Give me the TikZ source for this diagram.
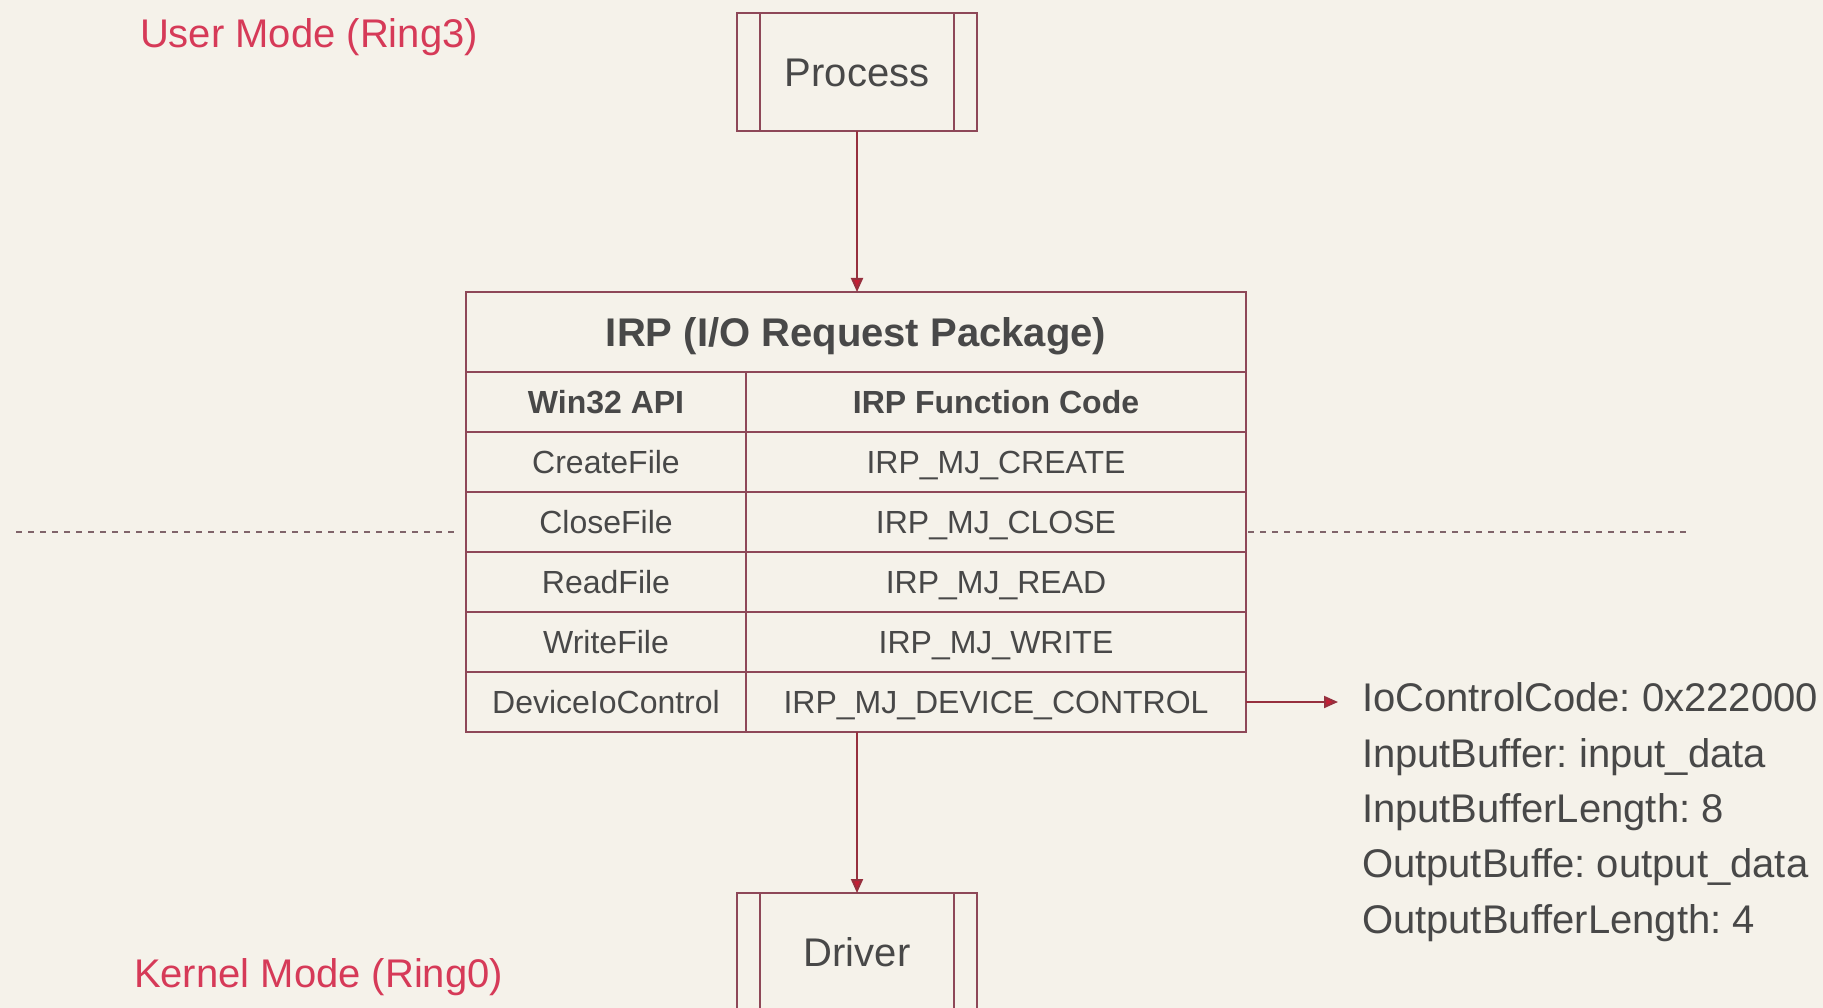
\documentclass[tikz,border=0pt]{standalone}
\usepackage{fontspec}
\setmainfont{Liberation Sans}
\usetikzlibrary{arrows.meta}
\frenchspacing

\definecolor{paper}{RGB}{245,242,234}
\definecolor{edge}{RGB}{142,72,88}
\definecolor{wire}{RGB}{150,48,62}
\definecolor{tip}{RGB}{196,30,52}
\definecolor{ink}{RGB}{72,72,72}
\definecolor{mode}{RGB}{214,58,88}
\definecolor{split}{RGB}{128,100,106}

\tikzset{
  every node/.style={inner sep=0pt, outer sep=0pt, text=ink},
  procbox/.style={draw=edge, line width=2pt, minimum width=240pt, minimum height=118pt,
    font=\fontsize{40}{46}\selectfont, text height=29pt, text depth=-1pt,
    path picture={
      \draw[edge, line width=2pt]
        ([xshift=23pt]path picture bounding box.north west) -- ([xshift=23pt]path picture bounding box.south west)
        ([xshift=-23pt]path picture bounding box.north east) -- ([xshift=-23pt]path picture bounding box.south east);
    }},
  cell/.style={draw=edge, line width=2pt, minimum height=60pt, font=\fontsize{32}{36}\selectfont,
    text height=23pt, text depth=-6pt},
  apicell/.style={cell, minimum width=280pt},
  codecell/.style={cell, minimum width=500pt},
  headcell/.style={font=\fontsize{32}{36}\selectfont\bfseries},
  titlecell/.style={draw=edge, line width=2pt, minimum width=780pt, minimum height=80pt,
    font=\fontsize{40}{46}\selectfont\bfseries, text height=29pt, text depth=-7pt},
  flow/.style={draw=wire, line width=2pt, -{Triangle[length=14pt,width=12pt,fill=tip]}},
  modelabel/.style={text=mode, anchor=west, font=\fontsize{40}{46}\selectfont},
  ringsplit/.style={draw=split, line width=2pt, dash pattern=on 6pt off 6pt},
}

\begin{document}
\begin{tikzpicture}[x=1pt, y=-1pt]
  \fill[paper] (0,0) rectangle (1823,1008);
  \useasboundingbox (0,0) rectangle (1823,1008);

  % privilege levels
  \node[modelabel] (user) at (140,37) {User Mode (Ring3)};
  \node[modelabel] (kernel) at (134,977) {Kernel Mode (Ring0)};
  \draw[ringsplit] (16,532) -- (456,532);
  \draw[ringsplit] (1248,532) -- (1686,532);

  % endpoints
  \node[procbox] (proc) at (857,72) {Process};
  \node[procbox] (drv) at (857,952) {Driver};

  % IRP table
  \node[titlecell] (irp) at (856,332) {IRP (I/O Request Package)};
  \node[apicell, headcell] (h1) at (606,402) {Win32 API};
  \node[codecell, headcell] (h2) at (996,402) {IRP Function Code};
  \node[apicell] (r1a) at (606,462) {CreateFile};
  \node[codecell] (r1b) at (996,462) {IRP\_MJ\_CREATE};
  \node[apicell] (r2a) at (606,522) {CloseFile};
  \node[codecell] (r2b) at (996,522) {IRP\_MJ\_CLOSE};
  \node[apicell] (r3a) at (606,582) {ReadFile};
  \node[codecell] (r3b) at (996,582) {IRP\_MJ\_READ};
  \node[apicell] (r4a) at (606,642) {WriteFile};
  \node[codecell] (r4b) at (996,642) {IRP\_MJ\_WRITE};
  \node[apicell] (r5a) at (606,702) {DeviceIoControl};
  \node[codecell] (r5b) at (996,702) {IRP\_MJ\_DEVICE\_CONTROL};

  % DeviceIoControl parameters
  \node[anchor=north west, align=left, font=\fontsize{40}{55.3}\selectfont] (info) at (1362,683)
    {IoControlCode: 0x222000\\
     InputBuffer: input\_data\\
     InputBufferLength: 8\\
     OutputBuffe: output\_data\\
     OutputBufferLength: 4};
  \coordinate (infotip) at (1338,702);

  % connectors
  \draw[flow] (proc.south) -- (proc.south |- irp.north);
  \draw[flow] (r5b.south -| drv.north) -- (drv.north);
  \draw[flow] (r5b.east) -- (infotip);
\end{tikzpicture}
\end{document}
